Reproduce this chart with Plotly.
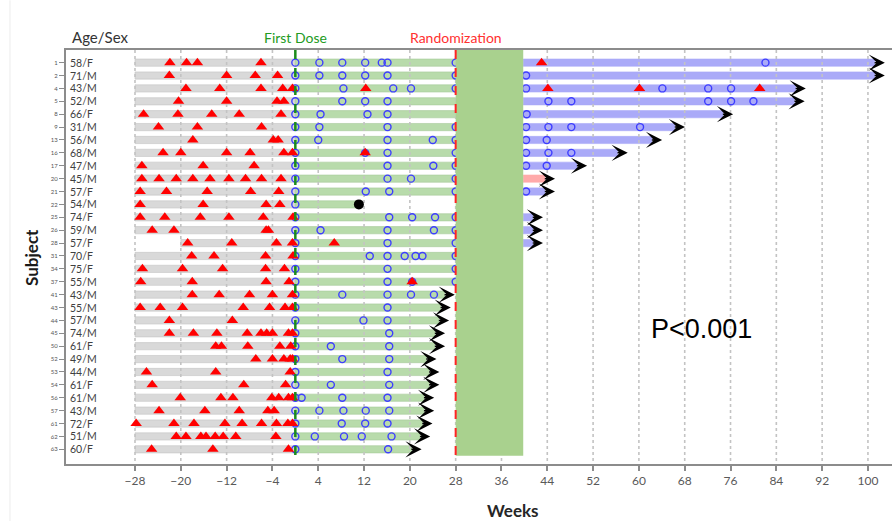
import plotly.graph_objects as go

# ---------------- data ----------------
subjects = ["1", "2", "4", "5", "8", "9", "13", "16", "17", "20", "21", "22", "25", "26", "28", "31",
            "34", "37", "41", "43", "44", "45", "50", "52", "53", "54", "56", "57", "61", "62", "63"]
age_sex = ["58/F", "71/M", "43/M", "52/M", "66/F", "31/M", "56/M", "68/M", "47/M", "45/M", "57/F",
           "54/M", "74/F", "59/M", "57/F", "70/F", "75/F", "55/M", "43/M", "55/M", "57/M", "74/M",
           "61/F", "49/M", "44/M", "61/F", "61/M", "43/M", "72/F", "51/M", "60/F"]

# screening period start (weeks)
screen_start = [-28, -28, -28, -28, -28, -28, -28, -28, -28, -28, -28, -28, -28, -28, -20, -28,
                -28, -28, -28, -28, -28, -28, -28, -28, -28, -28, -28, -28, -28, -28, -28]
# open-label treatment end (weeks)
dose_end = [28, 28, 28, 28, 28, 28, 28, 28, 28, 28, 28, 11.1, 28, 28, 28, 28,
            28, 28, 26.1, 25.4, 25.1, 24.4, 24.4, 22.9, 23.4, 23.4, 22.5, 22.5, 22.2, 21.8, 20.3]
dose_ongoing = [False] * 18 + [True] * 13
# randomized period
post_start = 39.8
post_end = [101.2, 101.2, 87.4, 87.2, 74.7, 66.3, 62.3, 56.3, 49.2, 43.6, 43.6, None, 41.5, 41.5, 41.5,
            None, None, None, None, None, None, None, None, None, None, None, None, None, None, None, None]
post_arm = ["B", "B", "B", "B", "B", "B", "B", "B", "B", "P", "B", None, "B", "B", "B",
            None, None, None, None, None, None, None, None, None, None, None, None, None, None, None, None]
death_week = {11: 11.1}

triangles = [
    [-21.9, -19.0, -17.1, -6.0, 43.0],
    [-22.0, -12.0, -7.0, -3.1],
    [-19.1, -13.2, -6.0, -2.2, -0.5, 12.3, 44.1, 60.1, 81.1],
    [-20.4, -12.0, -3.2, -2.0],
    [-26.5, -20.5, -14.6, -9.8, -2.5],
    [-23.9, -17.1, -5.9],
    [-17.9, -3.85, -3.0],
    [-23.1, -20.0, -12.0, -7.9, -2.0, -0.5, 12.2],
    [-26.8, -16.1, -7.2],
    [-26.8, -23.8, -20.8, -17.9, -14.9, -11.6, -8.7, -5.9, -2.5],
    [-27.1, -22.5, -15.4, -7.8, -2.9],
    [-27.1, -16.1, -5.1, -2.7],
    [-27.1, -22.8, -16.6, -11.6, -5.6, -0.4],
    [-25.0, -21.2, -5.1, -4.7],
    [-18.8, -11.1, -3.3, -0.5, 6.8],
    [-18.1, -14.2, -5.2, -0.4],
    [-26.7, -19.7, -12.7, -5.2, -1.9],
    [-27.0, -18.0, -5.1, -1.1, 20.4],
    [-18.0, -13.3, -8.0, -4.0, -0.5],
    [-27.1, -23.6, -19.7, -9.1, -4.5, -1.8, -0.5],
    [-22.0, -11.0],
    [-22.0, -17.8, -13.7, -8.4, -6.0, -5.0, -4.0, -1.2, -0.5],
    [-13.9, -12.9, -8.3, -2.7, -0.8],
    [-6.9, -4.0, -2.0, -0.9, -0.5],
    [-26.0, -13.9, -0.9],
    [-25.0, -9.0, -1.7],
    [-20.1, -13.0, -10.9, -4.1, -2.9, -1.2, -0.5],
    [-23.8, -15.8, -9.8, -4.8, -3.7],
    [-27.8, -21.2, -17.7, -12.3, -9.3, -5.9, -3.3, -1.3, -0.5],
    [-20.8, -19.1, -16.5, -15.6, -14.0, -12.6, -10.4, -3.4],
    [-25.1, -14.4, -1.2],
]
circles = [
    [0, 4.2, 8.2, 12.2, 15.1, 16.1, 28, 82.1],
    [0, 4.2, 8.2, 12.2, 16.1, 28, 40.3],
    [0, 8.4, 17.1, 20.2, 28, 40.3, 64.1, 72.1, 76.1],
    [0, 8.2, 12.2, 16.1, 44.2, 48.2, 72.1, 76.1, 80.0],
    [0, 4.4, 12.6, 16.1, 40.4],
    [0, 4.2, 16.1, 28, 40.3, 44.2, 48.2, 60.2],
    [0, 4.0, 16.1, 24.0, 28, 40.3, 43.9],
    [0, 12.2, 16.1, 28, 40.3, 44.2, 48.2],
    [0, 16.1, 24.1, 28, 40.3, 43.9],
    [0, 16.1, 20.2, 28],
    [0, 12.3, 16.4, 28, 40.3],
    [0],
    [0, 16.4, 20.4, 24.4, 28],
    [0, 4.4, 16.1, 24.2, 28],
    [0, 16.1, 28],
    [0, 13.0, 16.1, 19.1, 21.0, 22.2, 28],
    [0, 16.1, 28],
    [0, 16.1, 20.4, 28],
    [0, 8.2, 16.1, 20.2, 24.2],
    [0, 16.1],
    [0, 11.9, 16.1],
    [0, 16.4],
    [0, 6.2, 16.4],
    [0, 8.2, 16.4],
    [0, 16.1],
    [0, 6.2, 16.4],
    [0, 1.1, 8.2, 16.1],
    [0, 4.2, 8.4, 12.3, 16.4],
    [0, 8.1, 12.2, 16.1],
    [0, 3.4, 8.5, 11.6, 16.8],
    [0, 16.2],
]
x_ticks = [-28, -20, -12, -4, 4, 12, 20, 28, 36, 44, 52, 60, 68, 76, 84, 92, 100]
first_dose_week = 0
randomization_week = 28
p_text = "P<0.001"

# ---------------- styles ----------------
GRAY = "#d9d9d9"
GREEN = "#b8dbab"
BLUE = "#aaaaf8"
PINK = "#ffaaaa"
BLOCK = "#a9d18e"
FONT = "Lato"
XR = [-40.05, 104.2]
YR = [31.14, -0.98]
BW = 0.56
HEAD = 1.75

n = len(subjects)
rows = list(range(n))

fig = go.Figure()

# screening bars
fig.add_trace(go.Bar(orientation="h", y=rows, base=screen_start,
                     x=[0 - s for s in screen_start], width=BW,
                     marker=dict(color=GRAY, line=dict(color="#c4c4c4", width=0.6)),
                     hoverinfo="skip"))
# open-label bars
fig.add_trace(go.Bar(orientation="h", y=rows, base=[0] * n,
                     x=dose_end, width=BW,
                     marker=dict(color=GREEN, line=dict(color="#a6c99a", width=0.6)),
                     hoverinfo="skip"))
# randomized period bars
for arm, col in (("B", BLUE), ("P", PINK)):
    ys = [i for i in rows if post_arm[i] == arm]
    fig.add_trace(go.Bar(orientation="h", y=ys, base=[post_start] * len(ys),
                         x=[post_end[i] - post_start for i in ys], width=BW,
                         marker=dict(color=col, line=dict(color=col, width=0.6)),
                         hoverinfo="skip"))

# dashed vertical gridlines (drawn over the bars)
gx, gy = [], []
for t in x_ticks:
    gx += [t, t, None]
    gy += [YR[1], YR[0], None]
fig.add_trace(go.Scatter(x=gx, y=gy, mode="lines",
                         line=dict(color="#c3c3c3", width=1.6, dash="dot"),
                         hoverinfo="skip"))

# circles
cx, cy = [], []
for i, lst in enumerate(circles):
    cx += lst
    cy += [i] * len(lst)
fig.add_trace(go.Scatter(x=cx, y=cy, mode="markers",
                         marker=dict(symbol="circle-open", size=7, color="#3d3dff",
                                     line=dict(width=1.4, color="#3d3dff")),
                         hoverinfo="skip"))
# triangles
tx, ty = [], []
for i, lst in enumerate(triangles):
    tx += lst
    ty += [i] * len(lst)
fig.add_trace(go.Scatter(x=tx, y=ty, mode="markers",
                         marker=dict(symbol="triangle-up", size=10, color="#ff0000",
                                     line=dict(width=0)),
                         hoverinfo="skip"))
# death
fig.add_trace(go.Scatter(x=list(death_week.values()), y=list(death_week.keys()), mode="markers",
                         marker=dict(symbol="circle", size=10, color="black"),
                         hoverinfo="skip"))

shapes = [
    dict(type="rect", xref="x", yref="y", x0=randomization_week, x1=post_start,
         y0=YR[1], y1=30.5, fillcolor=BLOCK, line=dict(width=0), layer="above"),
    dict(type="line", xref="x", yref="y", x0=first_dose_week, x1=first_dose_week,
         y0=YR[1], y1=YR[0], line=dict(color="#1c8c1c", width=2.5, dash="dash"), layer="above"),
    dict(type="line", xref="x", yref="y", x0=randomization_week, x1=randomization_week,
         y0=YR[1], y1=YR[0], line=dict(color="#ff2424", width=2, dash="dash"), layer="above"),
    dict(type="line", xref="paper", yref="paper", x0=-0.0678, x1=-0.0678,
         y0=-0.14, y1=1.12, line=dict(color="#ececec", width=1)),
]

annotations = []
for i in rows:
    annotations.append(dict(x=0, xref="paper", y=i, yref="y", text=age_sex[i], showarrow=False,
                            xanchor="left", xshift=2, font=dict(family=FONT, size=10.5, color="#404040")))
# arrows for ongoing
for i in rows:
    e = None
    if post_end[i] is not None:
        e = post_end[i]
    elif dose_ongoing[i]:
        e = dose_end[i]
    if e is not None:
        annotations.append(dict(x=e + HEAD, y=i, xref="x", yref="y", ax=e - 0.3, ay=i,
                                axref="x", ayref="y", text="", showarrow=True,
                                arrowhead=3, arrowsize=1.8, arrowwidth=1.5, arrowcolor="black",
                                standoff=0))

annotations += [
    dict(x=0.005, xref="paper", y=1.032, yref="paper", text="Age/Sex", showarrow=False,
         xanchor="left", yanchor="middle", font=dict(family=FONT, size=15, color="#333333")),
    dict(x=first_dose_week, xref="x", y=1.029, yref="paper", text="First Dose", showarrow=False,
         xanchor="center", yanchor="middle", font=dict(family=FONT, size=14, color="#239b23")),
    dict(x=randomization_week, xref="x", y=1.029, yref="paper", text="Randomization", showarrow=False,
         xanchor="center", yanchor="middle", font=dict(family=FONT, size=14, color="#ff3030")),
    dict(x=-0.0425, xref="paper", y=0.5, yref="paper", text="<b>Subject</b>", showarrow=False,
         textangle=-90, xanchor="center", yanchor="middle",
         font=dict(family=FONT, size=17, color="#1a1a1a")),
    dict(x=38, xref="x", y=-0.112, yref="paper", text="<b>Weeks</b>", showarrow=False,
         xanchor="center", yanchor="middle", font=dict(family=FONT, size=17, color="#262626")),
    dict(x=71, xref="x", y=20.7, yref="y", text=p_text, showarrow=False,
         xanchor="center", yanchor="middle",
         font=dict(family="Liberation Sans, Arial", size=27, color="black")),
]

fig.update_layout(
    width=892, height=521,
    margin=dict(l=66, r=0, t=50, b=57),
    paper_bgcolor="white", plot_bgcolor="white",
    barmode="overlay", showlegend=False, hovermode=False,
    shapes=shapes, annotations=annotations,
    xaxis=dict(range=XR, tickvals=x_ticks, ticks="outside", ticklen=5, tickcolor="#8c8c8c",
               tickwidth=1.5, showline=True, linecolor="#8c8c8c", linewidth=2, mirror=True,
               showgrid=False, zeroline=False,
               tickfont=dict(family=FONT, size=12, color="#595959")),
    yaxis=dict(range=YR, tickvals=rows, ticktext=subjects, ticks="outside", ticklen=5,
               tickcolor="#8c8c8c", showline=True, linecolor="#8c8c8c", linewidth=2,
               showgrid=False, zeroline=False,
               tickfont=dict(family=FONT, size=6, color="#555555")),
)

fig.write_html("out.html")
